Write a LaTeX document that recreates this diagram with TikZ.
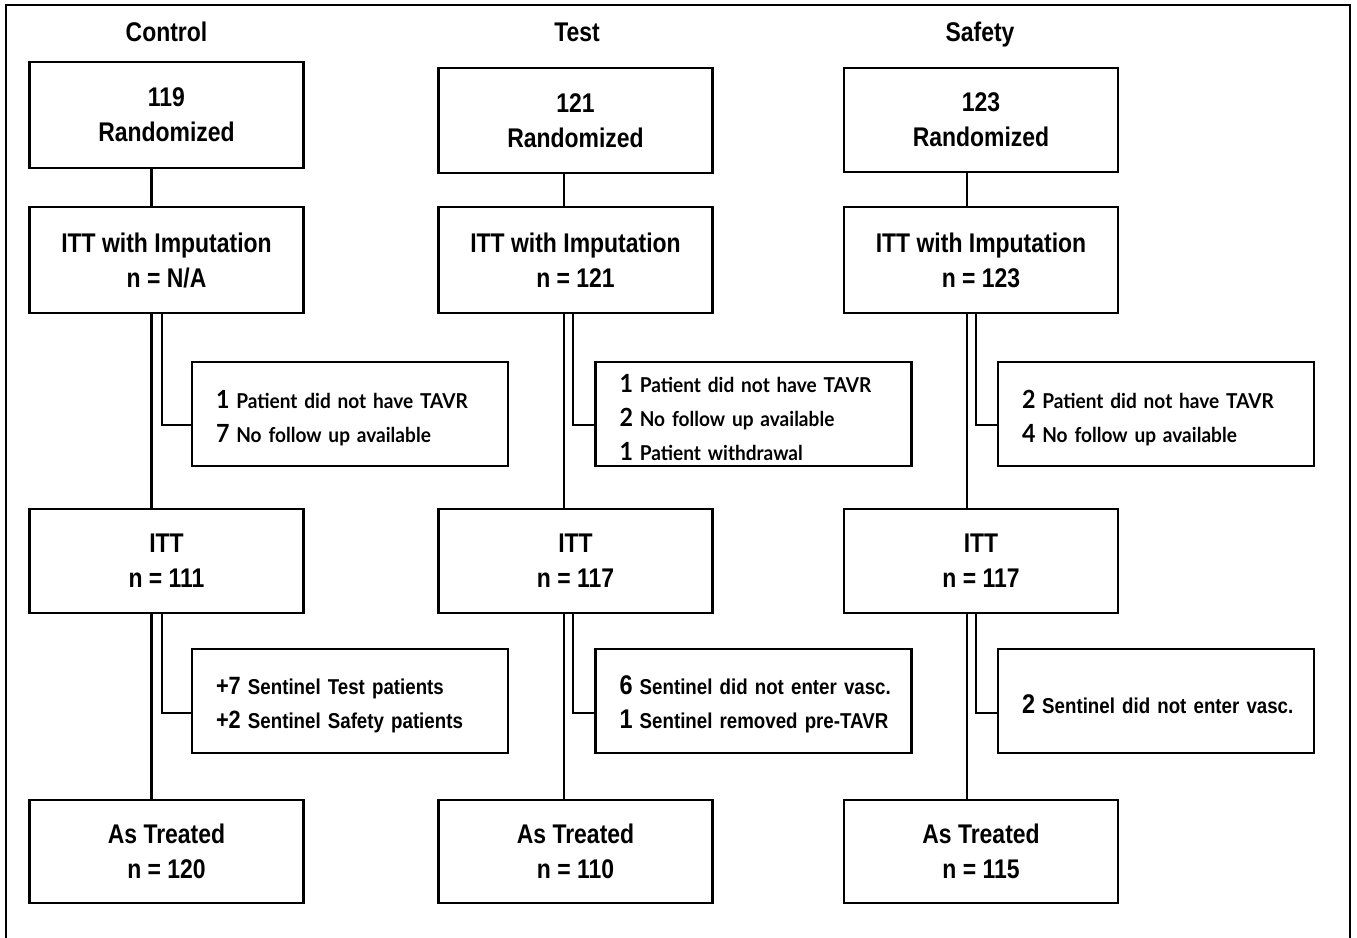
\documentclass[tikz,border=0pt]{standalone}
\usepackage{fontspec}
\setmainfont{Liberation Sans}
\newfontfamily\boxfont[FakeStretch=0.85]{Liberation Sans}
\newfontfamily\narrowfont[FakeStretch=0.87]{Liberation Sans}
\newfontfamily\notefont[FakeStretch=0.93]{Lato}
% one note line: a large count followed by its description, never broken
\newcommand{\noteline}[2]{\mbox{{\fontsize{25}{34}\selectfont\bfseries #1} #2}}
\newcommand{\notelinen}[2]{\mbox{{\fontsize{27}{34}\selectfont\bfseries #1} #2}}
% strut that lowers the first note line a little inside its box
\newcommand{\topstrut}{\rule{0pt}{26pt}}
\begin{document}
\begin{tikzpicture}[x=1pt,y=-1pt,
  every node/.style={inner sep=0pt,outer sep=0pt},
  title/.style={anchor=base,font=\boxfont\bfseries\fontsize{27}{35}\selectfont},
  mainbox/.style={draw,line width=2.7pt,minimum width=274pt,align=center,
    font=\boxfont\bfseries\fontsize{27}{35}\selectfont},
  notebox/.style={draw,line width=2.7pt,minimum height=104pt,text width=268pt,
    inner xsep=24pt,align=left},
  noteA/.style={notebox,font=\notefont\bfseries\fontsize{20.5}{34}\selectfont},
  noteB/.style={notebox,font=\narrowfont\bfseries\fontsize{21.5}{34}\selectfont},
  conn/.style={line width=2.7pt}]
\useasboundingbox (0,0) rectangle (1357,937);
\fill[white] (0,0) rectangle (1357,937);
% outer frame
\draw[line width=2pt] (6,950) -- (6,5) -- (1350,5) -- (1350,950);

% column headings
\node[title] (hc) at (166.5,41) {Control};
\node[title] (ht) at (577,41) {Test};
\node[title] (hs) at (980,41) {Safety};

% Control column
\node[mainbox,minimum height=106pt] (c1) at (166.5,115) {119\\Randomized};
\node[mainbox,minimum height=106pt] (c2) at (166.5,260) {ITT with Imputation\\n = N/A};
\node[mainbox,minimum height=104pt] (c3) at (166.5,561) {ITT\\n = 111};
\node[mainbox,minimum height=103pt] (c4) at (166.5,851.5) {As Treated\\n = 120};
\node[noteA] (cs1) at (350,414) {\topstrut\noteline{1}{Patient did not have TAVR}\\
  \noteline{7}{No follow up available}};
\node[noteB] (cs2) at (350,701) {\topstrut\noteline{+7}{Sentinel Test patients}\\
  \noteline{+2}{Sentinel Safety patients}};

% Test column
\node[mainbox,minimum height=105pt] (t1) at (575.5,120.5) {121\\Randomized};
\node[mainbox,minimum height=106pt] (t2) at (575.5,260) {ITT with Imputation\\n = 121};
\node[mainbox,minimum height=104pt] (t3) at (575.5,561) {ITT\\n = 117};
\node[mainbox,minimum height=103pt] (t4) at (575.5,851.5) {As Treated\\n = 110};
\node[noteA] (ts1) at (753.5,414) {\topstrut\noteline{1}{Patient did not have TAVR}\\
  \noteline{2}{No follow up available}\\
  \noteline{1}{Patient withdrawal}};
\node[noteB] (ts2) at (753.5,701) {\topstrut\notelinen{6}{Sentinel did not enter vasc.}\\
  \notelinen{1}{Sentinel removed pre-TAVR}};

% Safety column
\node[mainbox,minimum height=104pt] (s1) at (981,120) {123\\Randomized};
\node[mainbox,minimum height=106pt] (s2) at (981,260) {ITT with Imputation\\n = 123};
\node[mainbox,minimum height=104pt] (s3) at (981,561) {ITT\\n = 117};
\node[mainbox,minimum height=103pt] (s4) at (981,851.5) {As Treated\\n = 115};
\node[noteA] (ss1) at (1156,414) {\topstrut\noteline{2}{Patient did not have TAVR}\\
  \noteline{4}{No follow up available}};
\node[noteB] (ss2) at (1156,701) {\topstrut\notelinen{2}{Sentinel did not enter vasc.}};

% trunk and branch positions
\coordinate (cx) at (151.5,0);  \coordinate (cb) at (162,0);
\coordinate (tx) at (564,0);    \coordinate (tb) at (573,0);
\coordinate (sx) at (967,0);    \coordinate (sb) at (976,0);

% connectors
\foreach \p/\x/\b in {c/cx/cb, t/tx/tb, s/sx/sb}{
  \draw[conn] (\p1.south -| \x) -- (\p2.north -| \x);
  \draw[conn] (\p2.south -| \x) -- (\p3.north -| \x);
  \draw[conn] (\p3.south -| \x) -- (\p4.north -| \x);
  \draw[conn] (\p2.south -| \b) |- ([yshift=-11pt]\p s1.west);
  \draw[conn] (\p3.south -| \b) |- ([yshift=-12pt]\p s2.west);
}
\end{tikzpicture}
\end{document}
